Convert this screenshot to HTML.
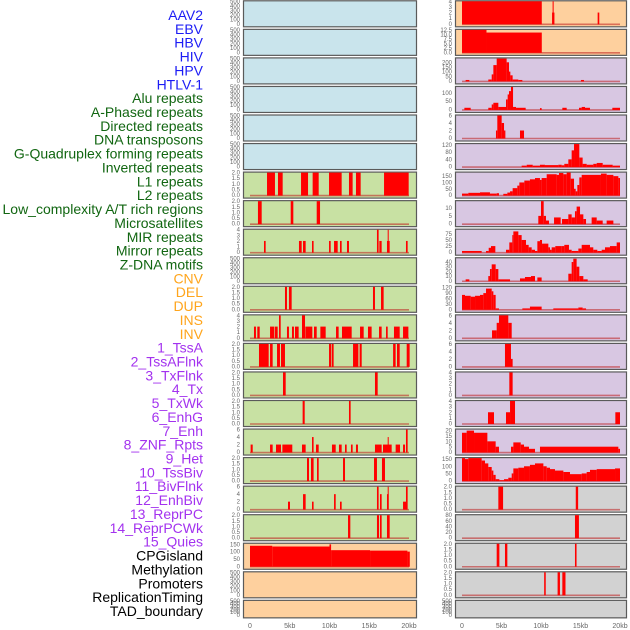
<!DOCTYPE html>
<html><head><meta charset="utf-8">
<style>
html,body{margin:0;padding:0;background:#fff;}
#wrap{position:relative;width:630px;height:630px;overflow:hidden;}
svg{position:absolute;left:0;top:0;}
</style></head>
<body>
<div id="wrap">
<svg id="chart" width="630" height="630"></svg>
</div>
<script>
const trackLabels = ["AAV2","EBV","HBV","HIV","HPV","HTLV-1","Alu repeats","A-Phased repeats","Directed repeats","DNA transposons","G-Quadruplex forming repeats","Inverted repeats","L1 repeats","L2 repeats","Low_complexity A/T rich regions","Microsatellites","MIR repeats","Mirror repeats","Z-DNA motifs","CNV","DEL","DUP","INS","INV","1_TssA","2_TssAFlnk","3_TxFlnk","4_Tx","5_TxWk","6_EnhG","7_Enh","8_ZNF_Rpts","9_Het","10_TssBiv","11_BivFlnk","12_EnhBiv","13_ReprPC","14_ReprPCWk","15_Quies","CPGisland","Methylation","Promoters","ReplicationTiming","TAD_boundary"];
const labelGroups = ["v","v","v","v","v","v","r","r","r","r","r","r","r","r","r","r","r","r","r","s","s","s","s","s","c","c","c","c","c","c","c","c","c","c","c","c","c","c","c","o","o","o","o","o"];
const xTickLabels = ["0","5kb","10kb","15kb","20kb"];
const xTickValues = [0,5,10,15,20];

const segL6 = [[2.14,3.14,2],[3.52,4.11,2],[6.42,7.3,2],[7.88,8.64,2],[9.94,11.53,2],[12.45,12.91,2],[13.33,13.92,2],[16.86,19.96,2]];
const segL7 = [[1.0,1.47,2],[5.12,5.45,2],[8.39,8.81,2]];
const segL8 = [[1.76,1.97,2],[6.16,6.5,2],[6.67,7.0,2],[7.8,8.0,2],[9.94,10.15,2],[10.57,11.03,2],[11.32,11.53,2],[12.2,12.45,2],[15.97,16.18,4],[16.27,16.56,2],[17.23,17.57,2],[17.32,17.4,4],[19.62,19.83,2]];
const segL10 = [[4.4,4.65,2],[4.9,5.24,2],[15.47,15.72,2],[16.48,16.81,2]];
const segL11 = [[0.5,0.75,2],[0.92,1.22,2],[2.52,3.06,2],[3.14,3.48,2],[3.65,3.86,4],[4.65,4.9,2],[5.28,5.53,2],[5.66,6.12,2],[6.54,6.92,4],[6.96,7.84,2],[8.05,8.39,2],[8.85,9.52,2],[10.82,11.15,2],[11.57,12.79,2],[13.84,14.3,2],[14.84,15.3,2],[16.23,16.56,2],[17.11,17.32,2],[18.11,18.83,2],[19.25,19.92,2]];
const segL12 = [[1.13,2.35,2],[2.52,2.85,2],[3.4,3.77,2],[3.9,4.4,2],[9.94,10.19,2],[10.27,10.52,2],[12.96,13.63,2],[13.79,14.05,2],[18.0,18.32,2],[18.49,18.83,2],[19.71,20.08,2]];
const segL13 = [[4.15,4.49,2],[15.72,16.06,2]];
const segL14 = [[6.62,6.88,2],[12.45,12.66,2]];
const segL15 = [[0.08,0.34,2],[2.52,2.85,2],[3.27,3.9,2],[4.07,5.32,2],[6.54,7.0,2],[7.8,8.0,4],[8.3,8.64,2],[10.31,10.78,2],[11.19,11.53,2],[11.95,12.16,2],[12.7,12.91,2],[13.33,13.58,2],[15.72,16.56,2],[16.73,17.82,2],[17.32,17.44,4],[18.32,18.87,2],[19.25,19.5,2],[19.62,19.83,6]];
const segL16 = [[7.17,7.42,2],[7.67,8.0,2],[8.43,8.64,2],[11.7,11.95,2],[15.6,15.97,2],[16.6,16.98,2]];
const segL17 = [[4.78,5.03,2],[6.67,7.0,4],[7.8,8.0,2],[10.57,10.78,4],[11.32,11.53,2],[15.97,16.18,6],[16.35,16.56,4],[17.23,17.44,4],[17.32,17.44,6],[19.25,19.71,2],[19.62,19.83,6]];
const segL18 = [[12.33,12.62,2],[15.97,16.23,2],[16.35,16.56,2],[17.23,17.57,2]];
const segL19 = [[0,2.8,140],[2.8,10.0,135],[10.0,10.2,150],[10.2,15.1,110],[15.1,19.8,107],[19.8,20.1,100]];

const segR0 = [[0,10.1,4],[11.4,11.7,2],[11.47,11.6,4],[17.17,17.38,2]];
const segR1 = [[0,3.1,12.5],[3.1,10.1,11]];
const segR2 = [[0.46,0.93,10],[3.33,3.76,15],[3.76,3.97,70],[3.97,4.39,170],[4.39,5.65,240],[5.65,5.95,200],[5.95,6.12,100],[6.12,6.41,60],[6.41,7.13,15],[7.13,7.64,10],[15.06,15.44,10]];
const segR3 = [[0.3,1.1,10],[3.33,3.76,10],[3.76,3.97,30],[3.97,4.6,40],[4.6,5.57,15],[5.57,5.78,60],[5.78,5.95,90],[5.95,6.2,110],[6.2,6.46,135],[6.46,6.84,15],[6.84,8.06,10],[9.87,10.08,8],[12.7,13.25,10],[14.81,15.15,10],[15.15,15.57,15],[15.57,16.2,10],[19.03,20.0,10]];
const segR4 = [[4.3,4.47,2],[4.47,5.02,6],[5.02,5.32,4],[5.32,5.49,2],[7.34,7.85,2]];
const segR5 = [[7.55,8.19,5],[8.19,8.95,10],[8.95,9.87,5],[9.87,10.5,10],[10.5,12.19,8],[12.19,12.62,10],[12.62,12.95,7],[12.95,13.46,15],[13.46,13.88,40],[13.88,14.18,90],[14.18,14.85,125],[14.85,15.27,50],[15.27,15.78,15],[15.78,16.62,10],[16.62,17.05,15],[17.05,17.81,20],[17.81,19.07,10],[19.07,20.0,5]];
const segR6 = [[0,0.8,12],[0.8,2.28,18],[2.28,3.54,22],[3.54,4.39,12],[4.39,4.68,15],[5.23,5.74,10],[5.74,6.08,20],[6.08,6.41,30],[6.41,7.0,55],[7.0,7.26,75],[7.26,7.89,100],[7.89,8.6,115],[8.6,9.24,125],[9.24,9.87,135],[9.87,10.08,120],[10.08,10.72,135],[10.72,11.98,165],[11.98,12.28,160],[12.28,12.83,175],[12.83,13.25,165],[13.25,13.76,180],[13.76,14.18,130],[14.18,14.39,50],[14.39,14.6,30],[14.6,14.85,80],[14.85,15.15,140],[15.15,17.59,160],[17.59,18.31,170],[18.31,19.16,160],[19.16,19.79,150],[19.79,20.0,135]];
const segR7 = [[9.66,10.0,5],[10.0,10.34,14.5],[10.34,10.63,5],[10.63,11.01,2],[11.65,12.49,4],[12.66,13.46,3],[13.46,13.88,6],[13.88,14.3,4],[14.3,14.51,8],[14.51,14.94,11],[14.94,15.36,6],[15.36,15.7,3],[16.41,17.05,4],[17.05,17.81,2],[18.31,19.16,2]];
const segR8 = [[0,2.49,5],[3.04,3.38,5],[3.38,3.67,18],[3.67,4.22,25],[5.57,5.99,10],[5.99,6.37,40],[6.37,6.5,70],[6.5,7.13,85],[7.13,7.55,70],[7.55,8.1,50],[8.1,8.44,30],[8.44,8.82,20],[8.82,9.24,10],[9.24,9.54,5],[9.54,9.87,45],[9.87,10.13,50],[10.13,10.93,35],[10.93,11.14,20],[11.14,11.35,10],[11.35,11.81,20],[11.81,12.62,25],[12.62,12.95,25],[12.95,13.54,30],[13.54,13.88,10],[13.88,14.73,5],[14.73,15.15,15],[15.15,16.2,30],[16.2,16.62,20],[16.62,17.13,10],[17.13,17.68,5],[17.68,18.1,10],[18.1,18.73,20],[18.73,19.58,25],[19.58,20.0,40]];
const segR9 = [[0.46,0.93,3],[3.33,3.54,10],[3.54,3.76,25],[3.76,4.26,35],[4.26,4.6,25],[4.6,6.08,3],[7.34,7.97,5],[7.97,8.73,8],[8.73,9.24,10],[9.54,10.08,7],[13.46,13.88,15],[13.88,14.09,40],[14.09,14.51,47],[14.51,14.85,30],[14.85,15.36,10],[15.36,15.91,3]];
const segR10 = [[0,0.38,80],[0.38,1.1,75],[1.1,1.65,70],[1.65,2.28,75],[2.28,2.7,80],[2.7,3.04,90],[3.04,3.76,115],[3.76,3.97,100],[3.97,4.26,80],[4.26,4.68,5],[7.64,8.6,5],[8.6,10.08,15],[11.56,14.73,5],[14.73,15.27,10],[15.27,15.7,5]];
const segR11 = [[3.8,4.39,2],[4.39,4.68,4],[4.68,5.86,6],[5.86,6.29,4]];
const segR12 = [[5.44,6.2,6],[6.2,6.41,2]];
const segR13 = [[5.99,6.41,4]];
const segR14 = [[3.29,4.05,2],[5.57,6.08,2],[6.08,6.71,4],[19.41,20.0,2]];
const segR15 = [[0,0.59,18],[0.59,1.52,20],[1.52,3.21,18],[3.21,4.26,10],[4.26,4.68,5],[6.2,6.5,5],[6.5,7.43,9],[7.43,7.85,7],[7.85,8.48,5],[8.48,9.24,3],[9.87,19.79,5],[19.79,20.0,3]];
const segR16 = [[0,0.38,160],[0.38,0.8,150],[0.8,2.49,160],[2.49,2.91,140],[2.91,3.33,120],[3.33,3.76,95],[3.76,3.97,70],[3.97,4.26,40],[4.26,4.73,10],[4.73,5.32,3],[5.32,5.86,10],[5.86,6.29,20],[6.29,6.5,50],[6.5,7.13,85],[7.13,7.85,90],[7.85,8.6,100],[8.6,9.24,110],[9.24,10.3,120],[10.3,10.72,100],[10.72,11.14,90],[11.14,11.77,80],[11.77,12.83,70],[12.83,13.67,60],[13.67,15.15,45],[15.15,15.78,50],[15.78,16.2,60],[16.2,17.05,75],[17.05,19.37,80],[19.37,20.0,85]];
const segR17 = [[4.6,5.2,2],[14.4,14.7,2]];
const segR18 = [[14.3,14.8,80]];
const segR19 = [[4.39,4.73,2],[5.44,5.74,2],[14.3,14.5,2]];
const segR20 = [[10.4,10.6,2],[12.1,12.4,2],[12.7,13.1,2]];

const leftYMax = [500,500,500,500,500,500,2,2,4,500,2,4,2,2,2,6,2,6,2,154,500,500];
const rightYMax = [4,12.5,242,135,6,125,178,14.5,92,48,125,6,6,4,4,21,157,2,80,2,2,500];
const leftTicks = ["e","e","e","e","e","e","h","h","q","e","h","q","h","h","h","s","h","s","h",[0,50,100,150],"e","e"];
const rightTicks = [[0,1,2,3,4],[0,2.5,5,7.5,10,12.5],[0,50,100,150,200],[0,50,100],[0,2,4,6],[0,40,80,120],[0,50,100,150],[0,5,10],[0,25,50,75],[0,10,20,30,40],[0,30,60,90,120],[0,2,4,6],[0,2,4,6],[0,1,2,3,4],[0,1,2,3,4],[0,5,10,15,20],[0,50,100,150],"h",[0,20,40,60,80],"h","h","e"];
const leftSegs = [null,null,null,null,null,null,segL6,segL7,segL8,null,segL10,segL11,segL12,segL13,segL14,segL15,segL16,segL17,segL18,segL19,null,null];
const rightSegs = [segR0,segR1,segR2,segR3,segR4,segR5,segR6,segR7,segR8,segR9,segR10,segR11,segR12,segR13,segR14,segR15,segR16,segR17,segR18,segR19,segR20,null];
const leftColors = ["#c9e4ec","#c9e4ec","#c9e4ec","#c9e4ec","#c9e4ec","#c9e4ec","#c8e1a3","#c8e1a3","#c8e1a3","#c8e1a3","#c8e1a3","#c8e1a3","#c8e1a3","#c8e1a3","#c8e1a3","#c8e1a3","#c8e1a3","#c8e1a3","#c8e1a3","#fed09e","#fed09e","#fed09e"];
const rightColors = ["#fed09e","#fed09e","#d8c7e2","#d8c7e2","#d8c7e2","#d8c7e2","#d8c7e2","#d8c7e2","#d8c7e2","#d8c7e2","#d8c7e2","#d8c7e2","#d8c7e2","#d8c7e2","#d8c7e2","#d8c7e2","#d8c7e2","#d2d2d2","#d2d2d2","#d2d2d2","#d2d2d2","#d2d2d2"];

const NS = "http://www.w3.org/2000/svg";
const svg = document.getElementById("chart");
function mk(tag, attrs, parent){ const e=document.createElementNS(NS,tag); for(const k in attrs) e.setAttribute(k,attrs[k]); (parent||svg).appendChild(e); return e; }

const colorMap = {v:"#1c1cf5", r:"#116611", s:"#ffa51c", c:"#a332ef", o:"#000000"};
trackLabels.forEach((t,i)=>{
  const el = mk("text",{x:203,y:15+13.86*i+5,"text-anchor":"end","font-family":"Liberation Sans, sans-serif","font-size":"14",fill:colorMap[labelGroups[i]]});
  el.textContent = t;
  
  
});

const cols = [
  {x0:243, w:173, zx:250, pxkb:7.95, ymax:leftYMax, ticks:leftTicks, segs:leftSegs, colors:leftColors, side:"left"},
  {x0:455, w:171, zx:462, pxkb:7.9, ymax:rightYMax, ticks:rightTicks, segs:rightSegs, colors:rightColors, side:"right"}
];
function tickList(spec){
  if(spec==="e") return [0,100,200,300,400,500];
  if(spec==="h") return [0,0.5,1,1.5,2];
  if(spec==="q") return [0,1,2,3,4];
  if(spec==="s") return [0,2,4,6];
  return spec;
}
function fmt(v,spec){
  if(spec==="h") return v.toFixed(1);
  if(Array.isArray(spec) && spec.some(x=>x%1!==0)) return v.toFixed(1);
  return String(v);
}
cols.forEach(c=>{
  const xs = kb=>c.zx+kb*c.pxkb;
  for(let r=0;r<22;r++){
    const top = 0.3+28.55*r;
    const h = r===21?17.5:26;
    const zero = top+h-2.5;
    const y0 = top+1;
    const ymax = c.ymax[r];
    const ys = v=>zero-(Math.min(v,ymax)/ymax)*(zero-y0);
    const bg = mk("rect",{x:c.x0+0.5,y:top+0.5,width:c.w,height:h,fill:c.colors[r],stroke:"#5a5a5a","stroke-width":1.2});
    
    
    const segs = c.segs[r];
    if(segs){
      mk("line",{x1:xs(0),x2:xs(20),y1:zero+0.5,y2:zero+0.5,stroke:"rgba(190,30,30,0.55)","stroke-width":1.6});
      segs.forEach(s=>{
        const x1=xs(s[0]), x2=xs(s[1]);
        const bar = mk("rect",{x:x1,y:ys(s[2]),width:Math.max(x2-x1,1),height:zero-ys(s[2])+0.5,fill:"#ff0000"});
        
        
      });
    }
    const spec = c.ticks[r];
    const tl = tickList(spec);
    tl.forEach(v=>{
      const t = mk("text",{x:c.x0-3,y:ys(v)+2,"text-anchor":"end","font-family":"Liberation Sans, sans-serif","font-size":"6",fill:"#666"});
      t.textContent = fmt(v,spec);
      
      
    });
  }
  xTickValues.forEach((v,i)=>{
    const t = mk("text",{x:xs(v),y:628,"text-anchor":"middle","font-family":"Liberation Sans, sans-serif","font-size":"7",fill:"#666"});
    t.textContent = xTickLabels[i];
    
    
  });
});
</script>
</body></html>
